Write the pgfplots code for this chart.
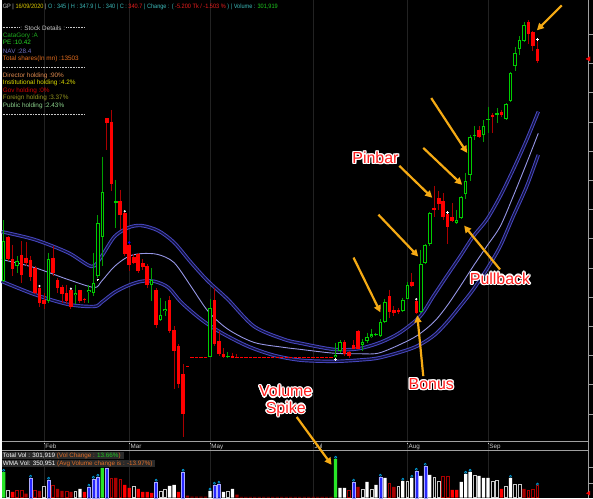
\documentclass[border=0pt]{standalone}
\usepackage{pgfplots}
\pgfplotsset{compat=1.18}
\usepackage{pgfplotstable}
\usepackage{graphicx}
\usepackage{fontspec}
\setmainfont{Liberation Sans}
\usetikzlibrary{arrows.meta}
\definecolor{gbody}{RGB}{0,205,0}
\definecolor{gwick}{RGB}{0,160,0}
\definecolor{rbody}{RGB}{255,0,0}
\definecolor{rwick}{RGB}{170,0,0}
\definecolor{bandout}{RGB}{72,72,195}
\definecolor{bandin}{RGB}{18,18,60}
\definecolor{bandmid}{RGB}{150,150,230}
\definecolor{arrowc}{RGB}{245,170,20}
\definecolor{annred}{RGB}{255,30,30}
\definecolor{gridc}{RGB}{34,34,34}
\definecolor{axgray}{RGB}{160,160,160}
\definecolor{lgray}{RGB}{200,200,200}
\definecolor{hy}{RGB}{220,200,0}
\definecolor{hc}{RGB}{60,185,185}
\definecolor{hr}{RGB}{235,30,30}
\definecolor{hg}{RGB}{30,200,30}
\definecolor{vblue}{RGB}{40,40,255}
\definecolor{vblueedge}{RGB}{170,170,255}
\definecolor{vdr}{RGB}{170,0,0}
\definecolor{vgreen}{RGB}{40,230,40}
\definecolor{horange}{RGB}{225,110,40}
\definecolor{boxgray}{RGB}{42,42,42}
\definecolor{cgreen}{RGB}{30,170,30}
\definecolor{pegreen}{RGB}{40,220,40}
\definecolor{navblue}{RGB}{110,110,190}
\definecolor{tsorange}{RGB}{230,110,30}
\definecolor{dirorange}{RGB}{225,140,80}
\definecolor{instyellow}{RGB}{220,220,0}
\definecolor{govred}{RGB}{210,0,0}
\definecolor{forolive}{RGB}{150,150,30}
\definecolor{pubgreen}{RGB}{140,210,140}

\pgfplotstableread{
i o h l c
0 265.5 286.3 265.1 279.1
3 270.8 274.0 268.3 272.4
10 258.8 275.2 258.1 273.1
16 260.6 264.3 257.5 261.5
19 261.7 264.3 258.1 262.6
20 261.5 275.2 260.3 265.0
21 267.2 288.0 266.6 285.4
22 280.5 308.1 270.6 295.9
25 292.2 300.2 283.7 292.8
33 264.0 270.0 258.6 266.0
35 252.1 259.8 251.8 253.8
36 255.2 258.6 253.5 256.1
46 239.6 259.2 239.5 256.4
50 239.4 241.2 239.3 239.7
74 239.4 244.4 239.3 240.2
75 241.4 245.2 241.0 244.8
80 243.7 245.6 241.6 244.6
81 245.0 247.8 244.4 246.5
82 246.2 249.2 246.1 247.2
83 247.0 247.8 246.7 247.5
84 246.6 252.4 246.2 251.5
85 251.5 259.2 251.0 258.4
89 255.2 259.8 254.9 259.0
90 259.4 265.1 259.2 264.0
93 255.0 276.3 254.7 271.4
94 271.7 278.3 271.2 277.7
95 278.3 289.3 277.4 288.8
101 285.5 289.9 285.2 286.4
102 287.1 294.7 286.9 294.3
103 295.3 302.4 293.6 299.9
104 301.9 315.5 299.6 314.7
105 315.1 318.6 313.8 315.6
107 315.5 320.6 313.2 318.6
108 320.6 325.2 316.3 321.1
110 322.4 324.7 319.6 323.1
112 320.9 326.4 320.6 326.1
113 327.2 337.1 326.9 336.6
114 339.1 345.7 337.5 343.6
115 345.1 349.3 342.8 348.0
116 347.7 354.2 347.4 353.1
}\upc

\pgfplotstableread{
i o h l c
1 280.5 281.0 272.2 273.1
2 273.1 278.0 267.2 269.7
4 274.5 279.1 264.9 267.7
5 273.5 279.0 270.6 271.7
6 272.8 274.0 265.5 266.8
7 270.0 270.6 260.9 261.5
8 263.2 263.5 256.5 258.1
9 258.9 261.5 256.0 257.8
11 273.5 277.4 267.2 268.3
12 265.7 266.6 261.5 263.0
13 263.3 264.3 258.1 261.2
14 261.4 264.3 257.5 258.6
15 262.5 263.0 256.1 256.5
17 262.3 262.6 258.1 258.8
18 259.5 259.8 258.1 259.0
23 321.2 321.3 310.4 319.7
24 320.1 324.1 296.4 298.7
26 292.8 296.8 283.1 288.2
27 288.8 289.3 274.0 274.6
28 278.0 278.3 268.9 270.9
29 273.6 274.9 271.2 271.7
30 274.6 275.2 268.3 268.9
31 271.6 272.9 269.4 270.4
32 270.6 271.2 263.2 264.1
34 262.6 263.2 249.5 250.4
37 258.9 260.3 247.8 248.4
38 248.6 250.1 228.5 241.6
39 243.3 243.9 229.0 230.2
40 233.6 237.0 212.0 220.0
41 236.4 236.5 235.9 236.0
47 258.9 263.2 243.3 243.9
48 245.0 248.4 239.9 240.4
49 240.4 242.5 239.3 239.5
51 239.7 241.0 239.3 239.3
52 239.6 240.4 239.3 239.3
76 244.8 245.2 239.9 240.4
77 241.2 241.5 239.3 239.7
78 243.5 245.2 242.1 242.4
79 248.4 248.6 242.1 242.4
86 260.3 262.6 253.0 255.0
87 255.5 256.9 253.5 254.7
88 255.5 256.4 254.1 254.9
91 265.3 268.1 263.5 263.7
92 258.6 258.9 254.1 254.7
96 290.6 298.1 287.6 289.9
97 294.1 296.2 289.9 291.9
98 292.8 295.7 286.5 287.3
99 288.6 289.3 278.3 284.0
100 287.3 292.2 285.6 285.9
106 317.2 318.6 314.5 314.9
109 322.4 323.0 316.2 321.8
111 323.5 324.1 321.7 322.4
117 354.2 354.8 346.8 350.0
118 350.8 351.1 344.3 346.0
119 345.0 347.9 340.0 340.7
}\downc

\pgfplotstableread{
i p
42 239.3
43 239.3
44 239.3
45 239.3
53 239.3
54 239.3
55 239.3
56 239.3
57 239.3
58 239.3
59 239.3
60 239.3
61 239.3
62 239.3
63 239.3
64 239.3
65 239.3
66 239.3
67 239.3
68 239.3
69 239.3
70 239.3
71 239.3
72 239.3
73 239.3
}\floorc

\pgfplotstableread{
x y
-0.44 282.4
6.9 279.7
14.4 275.2
19.6 270.5
21.8 273.9
24.7 280.7
27.8 283.8
30.7 284.5
34.4 282.8
38.0 278.7
41.8 271.8
45.6 265.4
50.0 259.2
55.8 250.0
62.4 245.6
66.2 244.2
73.6 242.1
79.0 242.3
84.0 244.5
88.4 247.9
92.9 253.5
95.8 260.3
98.8 267.2
101.8 274.0
104.7 280.8
107.7 286.5
110.7 294.5
113.6 303.6
116.6 313.8
119.2 323.5
}\upperband

\pgfplotstableread{
x y
-0.44 272.9
6.9 270.1
14.4 266.0
20.2 263.3
21.8 265.4
24.7 270.5
27.8 273.9
30.7 274.9
34.4 274.6
38.0 271.8
41.8 263.6
45.6 255.1
50.0 249.0
55.8 244.5
62.4 242.8
66.2 242.1
73.6 240.8
79.6 240.6
84.0 241.0
91.4 246.1
95.8 251.3
98.8 256.9
101.8 263.7
104.7 270.6
107.7 277.4
110.7 284.2
113.6 294.5
116.6 305.9
119.2 316.1
}\midband

\pgfplotstableread{
x y
-0.44 265.4
6.9 260.9
14.4 257.5
20.2 256.8
21.8 258.2
24.7 261.6
27.8 264.0
30.7 265.4
33.6 265.4
36.7 263.3
39.6 258.2
44.0 252.4
48.4 247.9
54.4 243.2
60.2 240.1
66.2 238.4
73.6 238.0
79.6 238.5
84.0 239.3
91.4 242.7
95.8 246.7
98.8 251.3
101.8 256.9
104.7 262.6
107.7 269.5
110.7 277.4
113.6 287.6
116.6 297.9
119.2 308.7
}\lowerband

\pgfplotstableread{
i v
0 650
22 750
74 975
}\volG
\pgfplotstableread{
i v
6 500
10 450
19 275
20 475
21 525
23 750
34 400
40 650
47 325
48 350
78 400
84 525
92 675
94 800
}\volB
\pgfplotstableread{
i v
17 225
37 300
38 325
46 175
49 150
51 225
75 250
76 250
81 400
83 325
85 500
89 425
91 500
93 550
95 575
102 400
103 600
104 650
106 550
107 500
108 500
113 500
}\volW
\pgfplotstableread{
i v
1 175
9 275
16 150
29 275
35 150
36 200
50 150
80 200
82 200
88 275
90 400
96 500
97 400
105 550
109 400
110 425
112 275
114 325
115 325
}\volH
\pgfplotstableread{
i v
2 150
18 150
27 325
28 250
30 225
31 150
32 150
33 125
39 150
100 200
101 200
111 225
}\volR
\pgfplotstableread{
i v
5 100
8 175
12 225
13 175
15 150
25 500
41 50
42 25
43 25
44 25
45 25
52 75
53 20
54 20
55 20
56 20
57 20
58 20
59 20
60 20
61 20
62 20
63 20
64 20
65 20
66 20
67 20
68 20
69 20
70 20
71 20
72 20
73 20
79 275
87 275
116 225
}\volDR
\pgfplotstableread{
i v
3 175
4 175
7 175
11 300
14 150
24 475
26 450
77 175
86 350
98 525
99 525
117 175
118 200
119 302
}\volDRh

\newcommand{\annfont}{\fontsize{16}{18}\selectfont}
\newcommand{\ann}[3]{%
  \foreach \a in {0,30,...,330}{\node[text=white, font=\annfont, inner sep=0] at ([shift={(\a:1.3pt)}]#1,#2) {#3};}
  \node[text=annred, font=\annfont, inner sep=0] at (#1,#2) {#3};}
\newcommand{\sfs}{\fontsize{6.4}{7}\selectfont}

\begin{document}
\begin{tikzpicture}[x=1pt,y=1pt]
\fill[black] (0,0) rectangle (593,499);
% month grid lines
\foreach \gx in {42.5,128,209,312.5,407,488} \draw[gridc, line width=0.8pt] (\gx,0)--(\gx,499);
% date band
\draw[axgray, line width=0.9pt] (0,56)--(589,56);
\draw[axgray, line width=0.9pt] (0,47)--(589,47);
\foreach \gx/\m in {42.5/Feb,128/Mar,209/May,312.5/Jul,407/Aug,488/Sep}{
  \draw[lgray, line width=0.5pt] (\gx,53.5)--(\gx,55);
  \node[anchor=base west, inner sep=0, font=\fontsize{6.3}{7}\selectfont, text=lgray] at (\gx+1.2,49.2) {\m};}
% right axis
\draw[axgray, line width=0.8pt] (589,0)--(589,499);
\foreach \k in {1,...,14} \draw[axgray, line width=0.6pt] (589,{494.3-29.3*\k})--++(4,0);
\draw[axgray, line width=0.6pt] (589,31)--++(4,0);
\draw[axgray, line width=0.6pt] (589,14)--++(4,0);

% ===== price panel =====
\begin{axis}[at={(0pt,58pt)}, anchor=south west, scale only axis, width=589pt, height=441pt,
  xmin=-0.444, xmax=130.44, ymin=211.1, ymax=361.6, hide axis, clip=false]
% bands
\addplot[smooth, line width=3.4pt, bandout] table[x=x,y=y] {\upperband};
\addplot[smooth, line width=1.5pt, bandin] table[x=x,y=y] {\upperband};
\addplot[smooth, line width=3.4pt, bandout] table[x=x,y=y] {\lowerband};
\addplot[smooth, line width=1.5pt, bandin] table[x=x,y=y] {\lowerband};
\addplot[smooth, line width=0.9pt, bandmid] table[x=x,y=y] {\midband};
% floor price candles
\addplot[only marks, mark=-, mark size=1.7pt, color=rbody, mark options={line width=1pt}] table[x=i,y=p] {\floorc};
% wicks
\addplot[quiver={u=0, v=\thisrow{l}-\thisrow{h}}, draw=gwick, line width=0.9pt, -] table[x=i,y=h] {\upc};
\addplot[quiver={u=0, v=\thisrow{l}-\thisrow{h}}, draw=rwick, line width=0.9pt, -] table[x=i,y=h] {\downc};
% bodies
\addplot[quiver={u=0, v=\thisrow{c}-\thisrow{o}}, draw=gbody, line width=3.6pt, -] table[x=i,y=o] {\upc};
\addplot[quiver={u=0, v={max(\thisrow{c}-\thisrow{o}-0.7,0)}}, draw=black, line width=1.6pt, -] table[x=i,y expr=\thisrow{o}+0.35] {\upc};
\addplot[quiver={u=0, v=\thisrow{c}-\thisrow{o}}, draw=rbody, line width=3.6pt, -] table[x=i,y=o] {\downc};
% signal markers
\addplot[only marks, mark=*, mark size=0.9pt, white] coordinates {(8,263.8) (15,262.9) (27,289.4) (92,259.3)};
\addplot[only marks, mark=*, mark size=1pt, blue] coordinates {(28,278.7)};
\addplot[only marks, mark=+, mark size=1.3pt, white, mark options={line width=0.8pt}] coordinates {(21,265.9) (74,238.6) (99,288.9) (119,348.3)};
% last price marker
\addplot[only marks, mark=triangle*, mark size=2.6pt, rbody, mark options={rotate=90, xshift=2.5pt}] coordinates {(130.44,340.7)};
\end{axis}

% ===== volume panel =====
\begin{axis}[at={(0pt,0pt)}, anchor=south west, scale only axis, width=589pt, height=46pt,
  xmin=-0.444, xmax=130.44, ymin=0, ymax=1150, hide axis, clip=false]
\addplot[ybar, bar width=3.3pt, bar shift=0pt, fill=vgreen, draw=none] table[x=i,y=v] {\volG};
\addplot[ybar, bar width=3.0pt, bar shift=0pt, fill=vblue, draw=vblueedge, line width=0.4pt] table[x=i,y=v] {\volB};
\addplot[ybar, bar width=3.3pt, bar shift=0pt, fill=white, draw=none] table[x=i,y=v] {\volW};
\addplot[ybar, bar width=2.8pt, bar shift=0pt, fill=black, draw=lgray, line width=0.7pt] table[x=i,y=v] {\volH};
\addplot[ybar, bar width=3.3pt, bar shift=0pt, fill=rbody, draw=none] table[x=i,y=v] {\volR};
\addplot[ybar, bar width=3.3pt, bar shift=0pt, fill=vdr, draw=none] table[x=i,y=v] {\volDR};
\addplot[ybar, bar width=2.8pt, bar shift=0pt, fill=black, draw=vdr, line width=0.7pt] table[x=i,y=v] {\volDRh};
\addplot[only marks, mark=o, mark size=1.1pt, cyan, mark options={line width=0.5pt}] coordinates {(0,690) (6,540) (10,490) (19,315) (20,515) (21,565) (34,440) (40,690) (46,215) (47,365) (48,390) (74,1015) (78,440) (84,565) (89,465) (91,540) (92,715) (94,840) (103,640) (104,690) (113,540) (119,342)};
\addplot[only marks, mark=triangle*, mark size=2.2pt, rbody, mark options={rotate=90, xshift=2.5pt}] coordinates {(130.44,50)};
\end{axis}

% volume texts
\fill[boxgray] (0,38.5) rectangle (123,45.8);
\fill[boxgray] (0,30.5) rectangle (154,38);
\node[anchor=base west, inner sep=0, font=\fontsize{6.3}{7}\selectfont] at (1,40) {\color{white}Total Vol : 301,919 \color{horange}(Vol Change : \color{hg}13.66\%\color{horange})};
\node[anchor=base west, inner sep=0, font=\fontsize{6.3}{7}\selectfont] at (1,32) {\color{white}WMA Vol: 350,951 \color{horange}(Avg Volume change is : -13.97\%)};

% header
\node[anchor=base west, inner sep=0, font=\fontsize{6.3}{7}\selectfont] at (1,491) {\scalebox{0.89}[1]{\color{lgray}GP | \color{hy}16/09/2020 \color{lgray}| \color{hc}O : 345 | H : 347.9 | L : 340 | C : \color{hr}340.7 \color{hc}| Change : ( \color{hr}-5.200 Tk / -1.503 \% \color{hc}) | Volume : \color{hg}301,919}};

% stock details
\draw[lgray, line width=0.6pt, dash pattern=on 1pt off 0.6pt] (1,471.5)--(18,471.5);
\draw[lgray, line width=0.6pt, dash pattern=on 1pt off 0.6pt] (65,471.5)--(83,471.5);
\node[anchor=base west, inner sep=0, font=\sfs, text=lgray] at (18.5,469.2) {: Stock Details :};
\node[anchor=base west, inner sep=0, font=\sfs, text=cgreen] at (1,461.8) {CataGory :A};
\node[anchor=base west, inner sep=0, font=\sfs, text=pegreen] at (1,454.5) {PE :10.42};
\node[anchor=base west, inner sep=0, font=\sfs, text=navblue] at (1,446) {NAV :28.4};
\node[anchor=base west, inner sep=0, font=\sfs, text=tsorange] at (1,438.5) {Total shares(In mn) :13503};
\draw[lgray, line width=0.6pt, dash pattern=on 1pt off 0.6pt] (1,431.7)--(83,431.7);
\node[anchor=base west, inner sep=0, font=\sfs, text=dirorange] at (1,421.8) {Director holding :90\%};
\node[anchor=base west, inner sep=0, font=\sfs, text=instyellow] at (1,414.2) {Institutional holding :4.2\%};
\node[anchor=base west, inner sep=0, font=\sfs, text=govred] at (1,406.8) {Gov holding :0\%};
\node[anchor=base west, inner sep=0, font=\sfs, text=forolive] at (1,399.2) {Foreign holding :3.37\%};
\node[anchor=base west, inner sep=0, font=\sfs, text=pubgreen] at (1,391.2) {Public holding :2.43\%};
\draw[lgray, line width=0.6pt, dash pattern=on 1pt off 0.6pt] (1,384.7)--(83,384.7);

% annotation arrows
\begin{scope}[arrowc, line width=2.2pt, -{Triangle[length=7pt,width=7pt]}]
\draw (562,494)--(537,469);
\draw (431,401)--(467,346);
\draw (423,351)--(462,314);
\draw (399,333)--(432,301);
\draw (378,284)--(418,242);
\draw (353,241)--(380,186);
\draw (500,229)--(464,273);
\draw (423,122)--(417,183);
\draw (296,81)--(331,33);
\end{scope}
% annotation labels
\ann{375}{341}{Pinbar}
\ann{500}{220}{Pullback}
\ann{431}{114}{Bonus}
\ann{285}{107}{Volume}
\ann{285}{89}{Spike}
\end{tikzpicture}
\end{document}
